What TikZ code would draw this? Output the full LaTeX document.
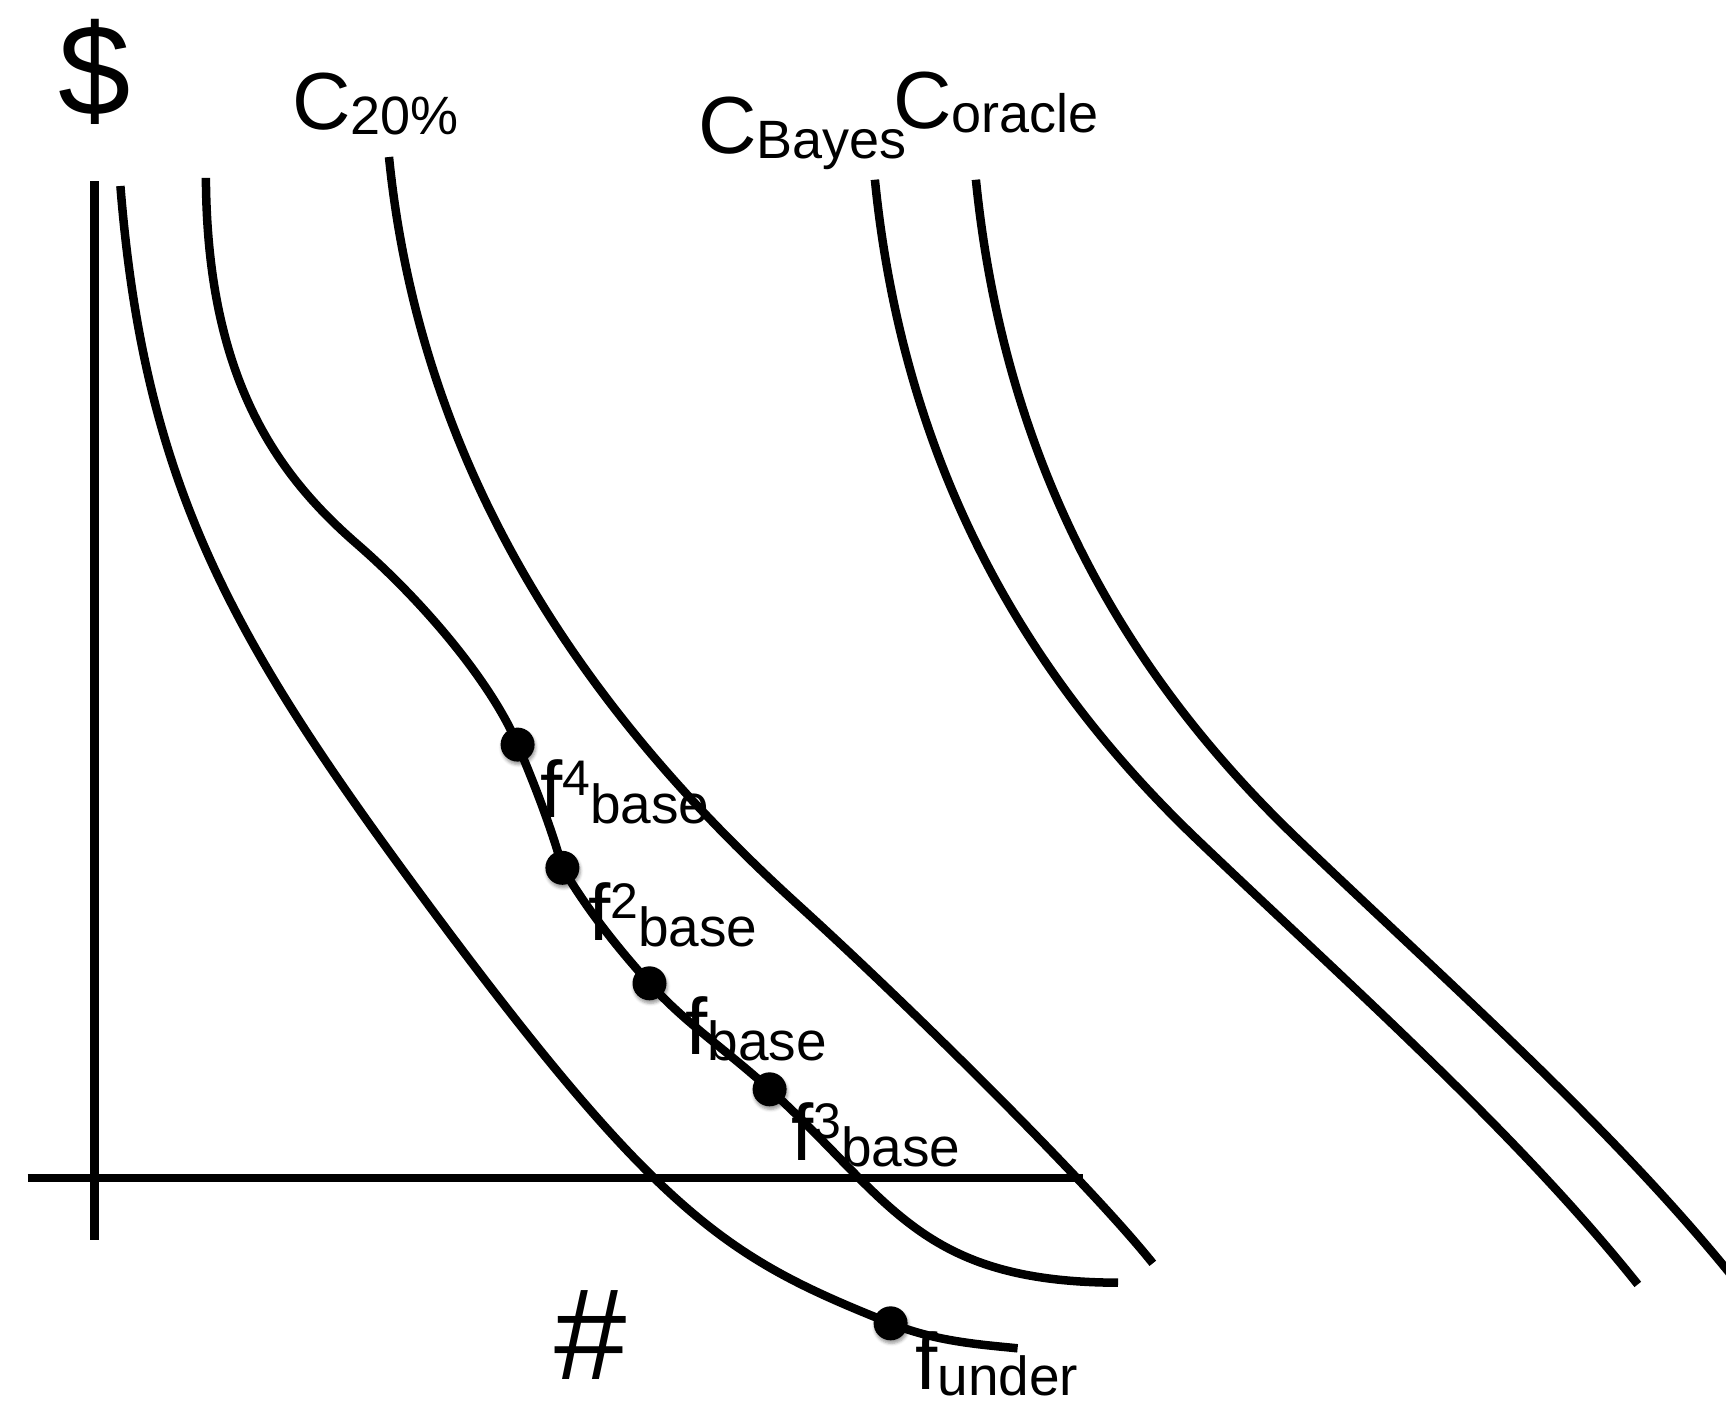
\documentclass[tikz,border=0pt]{standalone}
\usepackage{fontspec}
\setmainfont{Liberation Sans}
\usetikzlibrary{shadows.blur}
\tikzset{
  curve/.style={line width=8.5pt},
  axisline/.style={line width=8.5pt},
  bigsym/.style={inner sep=0pt, anchor=base west, font=\fontsize{130}{130}\selectfont},
  clabel/.style={inner sep=0pt, anchor=base west},
  dotnode/.style={circle, fill=black, inner sep=0pt, minimum size=34pt,
    blur shadow={shadow xshift=1pt, shadow yshift=-3pt, shadow blur radius=3pt, shadow opacity=40}},
}
\newcommand{\Clab}[2]{{\fontsize{81}{81}\selectfont C}\raisebox{-#2}{\fontsize{54}{54}\selectfont #1}}
\newcommand{\flab}[2]{{\fontsize{80}{80}\selectfont f}\raisebox{22pt}{\fontsize{50}{50}\selectfont #1}\raisebox{-6pt}{\fontsize{55}{55}\selectfont #2}}
\newcommand{\fsub}[1]{{\fontsize{80}{80}\selectfont f}\raisebox{-6pt}{\fontsize{55}{55}\selectfont #1}}
\begin{document}
\begin{tikzpicture}[x=1pt,y=-1pt]
\useasboundingbox (0,0) rectangle (1726,1405);
\begin{scope}
\clip (0,0) rectangle (1726,1405);
% axes
\coordinate (ytop) at (94.5,181);
\coordinate (ybot) at (94.5,1240);
\coordinate (xl) at (27.5,1178);
\coordinate (xr) at (1083,1178);
\draw[axisline] (ytop) -- (ybot);
\draw[axisline] (xl) -- (xr);
% dots on the curves
\coordinate (p4) at (517.6,744.6);
\coordinate (p2) at (562.4,867.8);
\coordinate (p1) at (649.5,983.3);
\coordinate (p3) at (769.6,1089.3);
\coordinate (pu) at (890.6,1323.3);
% curve A (f under)
\coordinate (aTop) at (120.4,186);
\coordinate (aMid) at (424.8,900);
\coordinate (aEnd) at (1017.6,1348.3);
\draw[curve] (aTop) .. controls (144.4,486) and (232.4,640) .. (aMid)
  .. controls (662.2,1220.8) and (730,1259) .. (pu)
  .. controls (935.6,1341.3) and (977.6,1344.3) .. (aEnd);
% curve B (base)
\coordinate (bTop) at (205.9,177.9);
\coordinate (bMid) at (357,544);
\coordinate (bEnd) at (1118,1282.7);
\draw[curve] (bTop) .. controls (207,378) and (276.5,474) .. (bMid)
  .. controls (426,604) and (492.4,684.6) .. (p4)
  .. controls (534.8,784.6) and (553,832.8) .. (p2)
  .. controls (586.4,907.8) and (613.5,943.3) .. (p1)
  .. controls (685.5,1023.3) and (725.6,1049.3) .. (p3)
  .. controls (890.6,1199.3) and (918,1282) .. (bEnd);
% curve C 20%
\coordinate (cTop) at (389,157);
\coordinate (cMid) at (799,905.7);
\coordinate (cEnd) at (1152.8,1263.3);
\draw[curve] (cTop) .. controls (425,517) and (634,755.7) .. (cMid)
  .. controls (909,1005.7) and (1088.8,1183.3) .. (cEnd);
% curve C Bayes
\coordinate (dTop) at (874.9,179.7);
\coordinate (dMid) at (1200,842.3);
\coordinate (dEnd) at (1637.8,1284.4);
\draw[curve] (dTop) .. controls (907.9,509.7) and (1063.5,712.3) .. (dMid)
  .. controls (1357.5,992.3) and (1517.8,1134.4) .. (dEnd);
% curve C oracle (same shape, shifted right)
\coordinate (eTop) at (975.9,179.7);
\coordinate (eMid) at (1301,842.3);
\coordinate (eEnd) at (1738.8,1284.4);
\draw[curve] (eTop) .. controls (1008.9,509.7) and (1164.5,712.3) .. (eMid)
  .. controls (1458.5,992.3) and (1618.8,1134.4) .. (eEnd);
\end{scope}
% dots
\node[dotnode] (d4) at (p4) {};
\node[dotnode] (d2) at (p2) {};
\node[dotnode] (d1) at (p1) {};
\node[dotnode] (d3) at (p3) {};
\node[dotnode] (du) at (pu) {};
% labels
\node[bigsym] (dollar) at (58,115) {\$};
\node[bigsym] (hash) at (554,1379) {\#};
\node[clabel] (c20) at (292,129) {\Clab{20\%}{5pt}};
\node[clabel] (cbayes) at (698,153) {\Clab{Bayes}{5pt}};
\node[clabel] (coracle) at (893,128) {\Clab{oracle}{4.5pt}};
\node[clabel] (lf4) at (540,817.5) {\flab{4}{base}};
\node[clabel] (lf2) at (588,940) {\flab{2}{base}};
\node[clabel] (lf1) at (685,1054) {\fsub{base}};
\node[clabel] (lf3) at (791,1160) {\flab{3}{base}};
\node[clabel] (lfu) at (915,1389) {\fsub{under}};
\end{tikzpicture}
\end{document}
